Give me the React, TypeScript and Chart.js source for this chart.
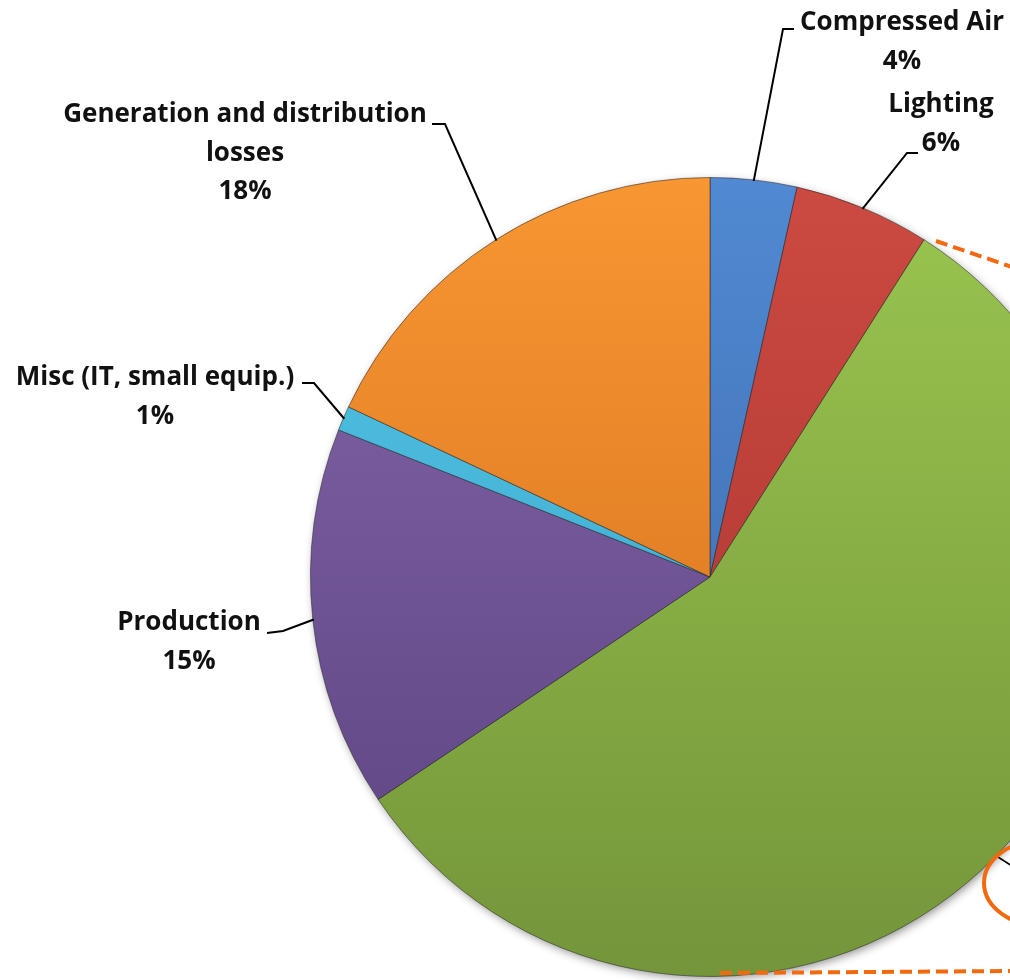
import React, { useEffect, useRef } from "react";
import { Chart, registerables } from "chart.js";

Chart.register(...registerables);

const categories = [
  "Compressed Air",
  "Lighting",
  "Process",
  "Production",
  "Misc (IT, small equip.)",
  "Generation and distribution losses",
];
const shares = [3.5, 5.5, 56.6, 15.4, 1, 18];

// label text lines (percent line appended from data)
const labelLines: string[][] = [
  ["Compressed Air"],
  ["Lighting"],
  [],
  ["Production"],
  ["Misc (IT, small equip.)"],
  ["Generation and distribution", "losses"],
];

// styles
const gradTop = ["#5189d2", "#cc4a42", "#9ac64f", "#8466aa", "#52c6e8", "#f89632"];
const gradBottom = ["#3865a4", "#a5322c", "#74953a", "#5b4280", "#389fc2", "#cf6b1c"];

// label layout: text center x, first line center y, tail end, elbow
const labelLayout: ({ cx: number; cy: number; tail: [number, number]; elbow: [number, number] } | null)[] = [
  { cx: 902, cy: 23, tail: [794, 29], elbow: [783, 29] },
  { cx: 941, cy: 105, tail: [918, 153], elbow: [907, 153] },
  null,
  { cx: 189, cy: 623, tail: [267, 633], elbow: [283, 631] },
  { cx: 155, cy: 378, tail: [302, 383], elbow: [314, 383] },
  { cx: 245, cy: 115, tail: [432, 124], elbow: [445, 124] },
];

const FONT = "bold 26px 'Open Sans', Lato, sans-serif";
const LINE_H = 38.5;

const labelPlugin = {
  id: "pieLabels",
  beforeDatasetsDraw(chart: any) {
    const meta = chart.getDatasetMeta(0);
    const arc = meta.data[0];
    if (!arc) return;
    const { x, y, outerRadius } = arc.getProps(["x", "y", "outerRadius"], true);
    const ctx = chart.ctx;
    ctx.save();
    ctx.shadowColor = "rgba(0,0,0,0.45)";
    ctx.shadowBlur = 10;
    ctx.shadowOffsetX = 2;
    ctx.shadowOffsetY = 3;
    ctx.fillStyle = "#777";
    ctx.beginPath();
    ctx.arc(x, y, outerRadius - 1, 0, Math.PI * 2);
    ctx.fill();
    ctx.restore();
  },
  afterDatasetsDraw(chart: any) {
    const ctx = chart.ctx;
    const meta = chart.getDatasetMeta(0);
    const total = shares.reduce((a, b) => a + b, 0);
    ctx.save();
    meta.data.forEach((el: any, i: number) => {
      const lay = labelLayout[i];
      if (!lay) return;
      const { x, y, startAngle, endAngle, outerRadius } = el.getProps(
        ["x", "y", "startAngle", "endAngle", "outerRadius"],
        true
      );
      const mid = (startAngle + endAngle) / 2;
      const ax = x + Math.cos(mid) * (outerRadius - 1);
      const ay = y + Math.sin(mid) * (outerRadius - 1);
      ctx.strokeStyle = "#000";
      ctx.lineWidth = 2;
      ctx.beginPath();
      ctx.moveTo(ax, ay);
      ctx.lineTo(lay.elbow[0], lay.elbow[1]);
      ctx.lineTo(lay.tail[0], lay.tail[1]);
      ctx.stroke();
      const pct = Math.round((shares[i] / total) * 100) + "%";
      const lines = [...labelLines[i], pct];
      ctx.fillStyle = "#111";
      ctx.font = FONT;
      ctx.textAlign = "center";
      ctx.textBaseline = "middle";
      lines.forEach((t, k) => ctx.fillText(t, lay.cx, lay.cy + k * LINE_H));
    });

    // orange callout decorations
    ctx.strokeStyle = "#f26a10";
    ctx.lineWidth = 4;
    ctx.setLineDash([12, 6]);
    ctx.beginPath();
    ctx.moveTo(936, 241);
    ctx.lineTo(1012, 267);
    ctx.stroke();
    ctx.beginPath();
    ctx.moveTo(720, 973);
    ctx.lineTo(1012, 971);
    ctx.stroke();
    ctx.setLineDash([]);
    ctx.strokeStyle = "#000";
    ctx.lineWidth = 1.5;
    ctx.beginPath();
    ctx.moveTo(998, 857);
    ctx.lineTo(1012, 866);
    ctx.stroke();
    ctx.strokeStyle = "#f26a10";
    ctx.lineWidth = 4;
    ctx.beginPath();
    ctx.ellipse(1046, 883, 62, 44, 0, 0, Math.PI * 2);
    ctx.stroke();
    ctx.restore();
  },
};

export default function App() {
  const ref = useRef<HTMLCanvasElement | null>(null);
  useEffect(() => {
    if (!ref.current) return;
    const chart = new Chart(ref.current, {
      type: "pie",
      data: {
        labels: categories,
        datasets: [
          {
            data: shares,
            backgroundColor: (c: any) => {
              const ch = c.chart;
              const area = ch.chartArea;
              const i = c.dataIndex;
              if (!area) return gradTop[i];
              const g = ch.ctx.createLinearGradient(0, area.top, 0, area.bottom);
              g.addColorStop(0, gradTop[i]);
              g.addColorStop(1, gradBottom[i]);
              return g;
            },
            borderColor: "rgba(40,40,40,0.55)",
            borderWidth: 1,
          },
        ],
      },
      options: {
        responsive: false,
        animation: false,
        devicePixelRatio: 1,
        layout: { padding: { left: 310, right: 310, top: 177, bottom: 3 } },
        plugins: { legend: { display: false }, tooltip: { enabled: false } },
      },
      plugins: [labelPlugin],
    });
    return () => chart.destroy();
  }, []);
  return (
    <div
      style={{
        position: "absolute",
        left: 0,
        top: 0,
        width: 1010,
        height: 980,
        overflow: "hidden",
        background: "#fff",
      }}
    >
      <canvas ref={ref} width={1420} height={980} style={{ display: "block" }} />
    </div>
  );
}
